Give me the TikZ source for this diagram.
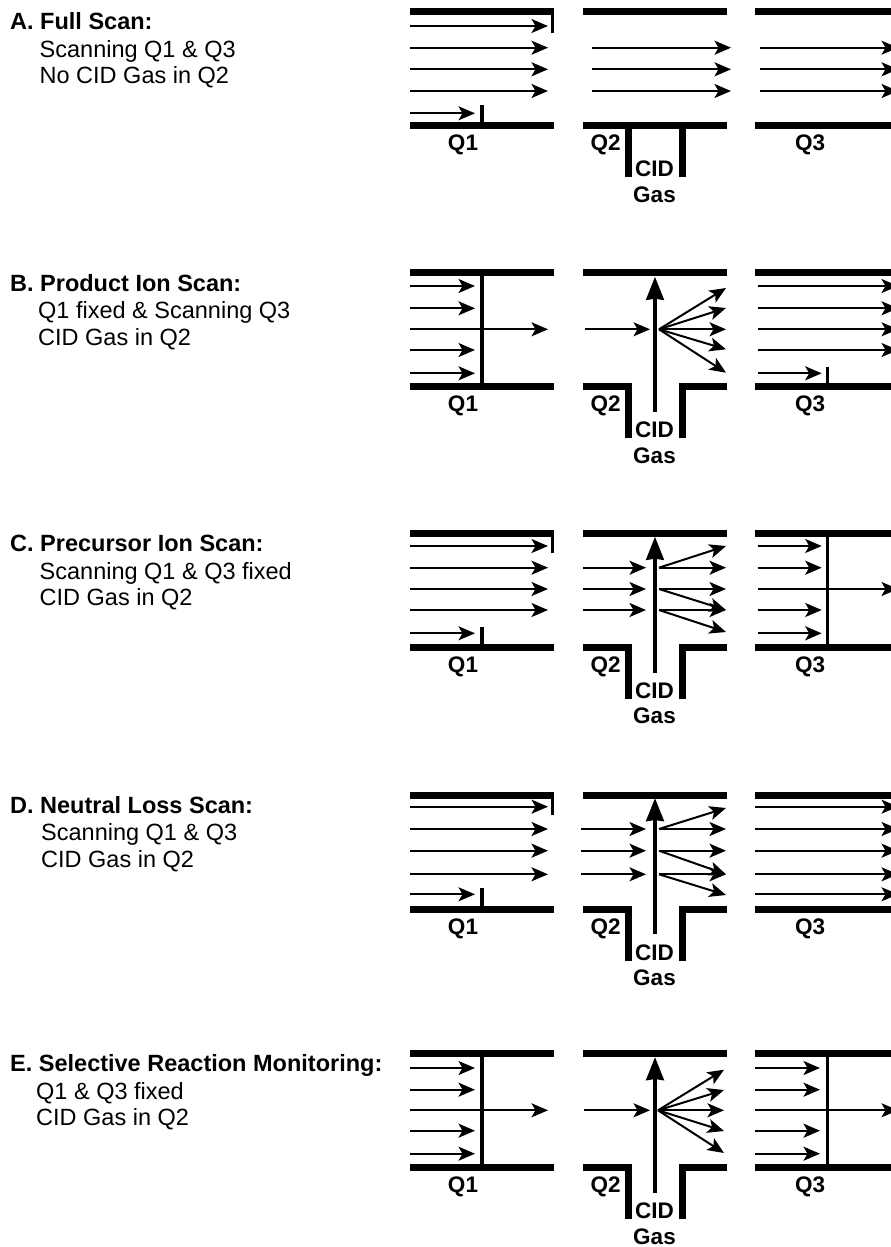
\documentclass[tikz,border=0pt]{standalone}
\usepackage{fontspec}
\setmainfont{Liberation Sans}
\usetikzlibrary{arrows.meta}

\begin{document}
\begin{tikzpicture}[
    x=1pt,y=-1pt,
    rod/.style={line width=7pt,line join=miter},
    slit/.style={line width=3.2pt},
    ion/.style={-{Stealth[length=16.5pt,width=14pt,inset=4pt]},line width=2pt},
    gas/.style={-{Stealth[length=23pt,width=17.5pt,inset=1pt]},line width=4pt},
    scanhead/.style={font=\bfseries\fontsize{23.5}{26}\selectfont,anchor=base west,inner sep=0pt},
    scanline/.style={font=\fontsize{23.5}{26}\selectfont,anchor=base west,inner sep=0pt},
    rodlabel/.style={font=\bfseries\fontsize{22.5}{26}\selectfont,anchor=base,inner sep=0pt}]
    \clip (0,0) rectangle (891,1247);
    \fill[white] (0,0) rectangle (891,1247);
    % rods and labels, the same for all five rows
    \foreach \tag/\top in {a/11.5,b/272.7,c/533.3,d/795,e/1053.7}{
      \draw[rod] (410,\top) -- (554,\top);
      \draw[rod] (583,\top) -- (727,\top);
      \draw[rod] (755,\top) -- (891,\top);
      \draw[rod] (410,\top+114) -- (554,\top+114);
      \draw[rod] (583,\top+114) -- (628,\top+114) -- (628,\top+165.5);
      \draw[rod] (727,\top+114) -- (682,\top+114) -- (682,\top+165.5);
      \draw[rod] (755,\top+114) -- (891,\top+114);
      \node[rodlabel] (q1\tag) at (463,\top+139) {Q1};
      \node[rodlabel] (q2\tag) at (605.5,\top+139) {Q2};
      \node[rodlabel] (q3\tag) at (810,\top+139) {Q3};
      \node[rodlabel] (cid\tag) at (654.5,\top+165) {CID};
      \node[rodlabel] (gas\tag) at (654.5,\top+190.5) {Gas};
    }
    % A
    \node[scanhead] (heada) at (10,30) {A. Full Scan:};
    \node[scanline] (linea1) at (39.5,57.3) {Scanning Q1 \& Q3};
    \node[scanline] (linea2) at (39.5,84) {No CID Gas in Q2};
    \draw[rod] (628,125.5) -- (682,125.5);
    \draw[slit] (552.7,8) -- (552.7,32.7);
    \draw[slit] (482,105) -- (482,125.5);
    \draw[ion] (410,113.3) -- (475,113.3);
    \foreach \y in {26,47.7,69.3,91}
      \draw[ion] (410,\y) -- (548,\y);
    \foreach \y in {47.7,69.3,91}{
      \draw[ion] (592,\y) -- (731,\y);
      \draw[ion] (760,\y) -- (898,\y);
    }
    % B
    \node[scanhead] (headb) at (10,291) {B. Product Ion Scan:};
    \node[scanline] (lineb1) at (38,318.3) {Q1 fixed \& Scanning Q3};
    \node[scanline] (lineb2) at (38,345) {CID Gas in Q2};
    \draw[slit] (482,272.7) -- (482,386.7);
    \foreach \y in {286,308.3,350,373.3}
      \draw[ion] (410,\y) -- (475,\y);
    \draw[ion] (410,329.3) -- (548,329.3);
    \draw[ion] (585,329.3) -- (650,329.3);
    \draw[gas] (655,411.7) -- (655,276.7);
    \foreach \y in {288,308,329.3,349.3,372.7}
      \draw[ion] (659,329.3) -- (726,\y);
    \draw[slit] (827.7,366.7) -- (827.7,386.7);
    \foreach \y in {286,308.3,329.3,350}
      \draw[ion] (757.7,\y) -- (898,\y);
    \draw[ion] (757.7,373.3) -- (821.7,373.3);
    % C
    \node[scanhead] (headc) at (10,551.7) {C. Precursor Ion Scan:};
    \node[scanline] (linec1) at (39.5,579) {Scanning Q1 \& Q3 fixed};
    \node[scanline] (linec2) at (39.5,605) {CID Gas in Q2};
    \draw[slit] (552.7,530) -- (552.7,553.3);
    \draw[slit] (482,627) -- (482,647.3);
    \draw[ion] (410,633.3) -- (475,633.3);
    \foreach \y in {546,567.7,589,610}
      \draw[ion] (410,\y) -- (548,\y);
    \foreach \y in {567.7,589,610}
      \draw[ion] (583,\y) -- (646,\y);
    \draw[gas] (655,672.7) -- (655,536.7);
    \foreach \from/\y in {567.7/546,567.7/567.7,589/589,589/610,610/610,610/632}
      \draw[ion] (659,\from) -- (726,\y);
    \draw[slit] (827.7,533.3) -- (827.7,647.3);
    \foreach \y in {546,567.7,610,633.3}
      \draw[ion] (757.7,\y) -- (821.7,\y);
    \draw[ion] (757.7,589) -- (898,589);
    % D
    \node[scanhead] (headd) at (10,813.3) {D. Neutral Loss Scan:};
    \node[scanline] (lined1) at (41,840) {Scanning Q1 \& Q3};
    \node[scanline] (lined2) at (41,867.3) {CID Gas in Q2};
    \draw[slit] (552.7,792) -- (552.7,815);
    \draw[slit] (482,888) -- (482,909);
    \draw[ion] (410,894.3) -- (475,894.3);
    \foreach \y in {806.7,829,850.7,874.3}
      \draw[ion] (410,\y) -- (548,\y);
    \foreach \y in {829,850.7,874.3}
      \draw[ion] (581,\y) -- (646,\y);
    \draw[gas] (655,934) -- (655,798);
    \foreach \from/\y in {829/808,829/829,850.7/850.7,850.7/874.3,874.3/874.3,874.3/895}
      \draw[ion] (659,\from) -- (726,\y);
    \foreach \y in {806.7,829,850.7,874.3,894.3}
      \draw[ion] (755,\y) -- (898,\y);
    % E
    \node[scanhead] (heade) at (10,1071.7) {E. Selective Reaction Monitoring:};
    \node[scanline] (linee1) at (36,1099) {Q1 \& Q3 fixed};
    \node[scanline] (linee2) at (36,1125) {CID Gas in Q2};
    \draw[slit] (482,1053.7) -- (482,1167.7);
    \foreach \y in {1068,1089.7,1130.7,1153.7}
      \draw[ion] (410,\y) -- (475,\y);
    \draw[ion] (410,1110.3) -- (548,1110.3);
    \draw[ion] (584,1110.3) -- (650,1110.3);
    \draw[gas] (655,1192.7) -- (655,1057);
    \foreach \y in {1069.7,1090,1110.3,1131,1153}
      \draw[ion] (658,1110.3) -- (724,\y);
    \draw[slit] (827.7,1053.7) -- (827.7,1167.7);
    \foreach \y in {1068,1089.7,1130.7,1153.7}
      \draw[ion] (755,\y) -- (820,\y);
    \draw[ion] (755,1110.3) -- (898,1110.3);
\end{tikzpicture}
\end{document}
